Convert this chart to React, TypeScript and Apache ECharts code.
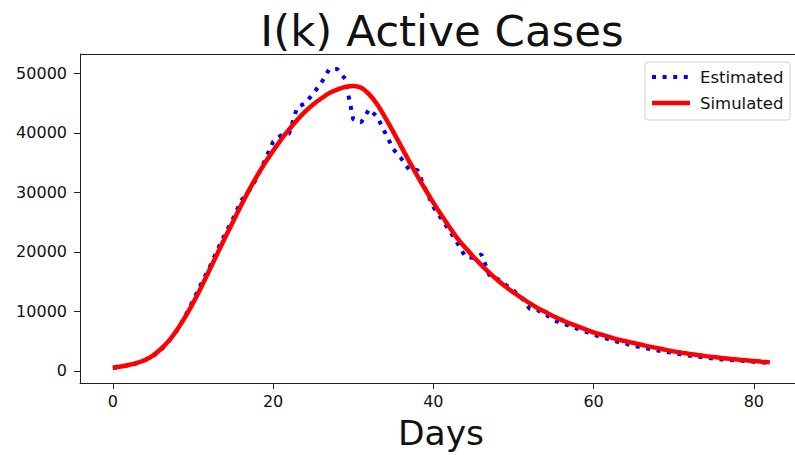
import React, { useEffect, useRef } from "react";
import * as echarts from "echarts";

// Active cases per day, days 0..82
const estimated = [
  500, 700, 950, 1300, 1800, 2500, 3500, 5000, 6800, 9100,
  11800, 14600, 17200, 20200, 23000, 25600, 28600, 30300, 32500, 35500,
  38500, 39600, 39900, 44300, 45000, 46600, 48400, 50700, 50750, 49100,
  42300, 41800, 44000, 42700, 40000, 37300, 35700, 33800, 33800, 30600,
  27600, 25600, 23600, 21500, 19200, 19000, 19600, 16100, 15500, 14500,
  13500, 12400, 10500, 10200, 9500, 8600, 8000, 7600, 7100, 6600,
  6100, 5700, 5300, 4900, 4600, 4200, 3950, 3700, 3450, 3250,
  3000, 2750, 2550, 2400, 2250, 2100, 1950, 1850, 1750, 1650,
  1550, 1450, 1350,
];

const simulated = [
  600, 750, 1000, 1350, 1850, 2600, 3700, 5100, 6900, 9000,
  11400, 14000, 16800, 19600, 22400, 25100, 27800, 30400, 32800, 35000,
  37000, 38900, 40600, 42200, 43600, 44800, 45800, 46700, 47300, 47750,
  47900, 47600, 46500, 44800, 42600, 40200, 37700, 35200, 32800, 30500,
  28300, 26200, 24200, 22300, 20700, 19200, 17800, 16500, 15300, 14200,
  13200, 12300, 11400, 10600, 9900, 9200, 8600, 8000, 7500, 7000,
  6500, 6100, 5700, 5300, 5000, 4700, 4400, 4100, 3850, 3550,
  3300, 3080, 2870, 2680, 2500, 2340, 2190, 2050, 1920, 1800,
  1680, 1560, 1450,
];

const xTicks = [0, 20, 40, 60, 80];
const yTicks = [0, 10000, 20000, 30000, 40000, 50000];

const titleText = "I(k) Active Cases";
const xLabel = "Days";
const seriesNames = ["Estimated", "Simulated"];

const FONT = "DejaVu Sans";
const BLUE = "#0000ff";
const RED = "#ff0000";
const AXIS = "#222";
const DOT_DASH = [4, 6.6];

// plot area (the frame continues past the right edge of the page)
const PLOT_LEFT = 80;
const PLOT_TOP = 54;
const PLOT_W = 715;
const PLOT_H = 329;

export default function App() {
  const ref = useRef<HTMLDivElement>(null);

  useEffect(() => {
    if (!ref.current) return;
    const chart = echarts.init(ref.current, undefined, { renderer: "svg" });

    const toPairs = (arr: number[]) => arr.map((v, i) => [i, v]);

    // legend box drawn in the upper-right corner of the plot
    const lgX = 645;
    const lgY = 62;
    const legendGraphic = {
      type: "group",
      z: 100,
      children: [
        {
          type: "rect",
          shape: { x: lgX, y: lgY, width: 145, height: 58, r: 3 },
          style: { fill: "#ffffff", stroke: "#d0d0d0", lineWidth: 1 },
        },
        {
          type: "line",
          shape: { x1: lgX + 7, y1: lgY + 15, x2: lgX + 45, y2: lgY + 15 },
          style: { stroke: BLUE, lineWidth: 4, lineDash: DOT_DASH, lineCap: "butt" },
        },
        {
          type: "line",
          shape: { x1: lgX + 7, y1: lgY + 41, x2: lgX + 45, y2: lgY + 41 },
          style: { stroke: RED, lineWidth: 4.5 },
        },
        {
          type: "text",
          x: lgX + 55,
          y: lgY + 15,
          style: {
            text: seriesNames[0],
            fontFamily: FONT,
            fontSize: 16.5,
            fill: "#111",
            verticalAlign: "middle",
          },
        },
        {
          type: "text",
          x: lgX + 55,
          y: lgY + 41,
          style: {
            text: seriesNames[1],
            fontFamily: FONT,
            fontSize: 16.5,
            fill: "#111",
            verticalAlign: "middle",
          },
        },
      ],
    };

    chart.setOption({
      animation: false,
      backgroundColor: "#ffffff",
      textStyle: { fontFamily: FONT },
      grid: {
        left: PLOT_LEFT,
        top: PLOT_TOP,
        width: PLOT_W,
        height: PLOT_H,
        show: false,
      },
      xAxis: {
        type: "value",
        min: -4.1,
        max: 85.14,
        axisLine: { show: true, onZero: false, lineStyle: { color: AXIS, width: 1 } },
        axisTick: {
          show: true,
          length: 6,
          customValues: xTicks,
          lineStyle: { color: AXIS },
        },
        axisLabel: {
          customValues: xTicks,
          margin: 10,
          fontSize: 16,
          color: "#111",
          fontFamily: FONT,
          formatter: (v: number) => String(v),
        },
        splitLine: { show: false },
      },
      yAxis: {
        type: "value",
        min: -2017,
        max: 53277,
        axisLine: { show: true, onZero: false, lineStyle: { color: AXIS, width: 1 } },
        axisTick: {
          show: true,
          length: 6,
          customValues: yTicks,
          lineStyle: { color: AXIS },
        },
        axisLabel: {
          customValues: yTicks,
          margin: 13,
          fontSize: 16,
          color: "#111",
          fontFamily: FONT,
          formatter: (v: number) => String(v),
        },
        splitLine: { show: false },
      },
      graphic: [
        {
          type: "line",
          shape: { x1: PLOT_LEFT, y1: PLOT_TOP + 0.5, x2: PLOT_LEFT + PLOT_W, y2: PLOT_TOP + 0.5 },
          style: { stroke: AXIS, lineWidth: 1 },
        },
        {
          type: "text",
          x: 442,
          y: 31,
          style: {
            text: titleText,
            fontFamily: FONT,
            fontSize: 43.5,
            fill: "#111",
            align: "center",
            verticalAlign: "middle",
          },
        },
        {
          type: "text",
          x: 441,
          y: 433,
          style: {
            text: xLabel,
            fontFamily: FONT,
            fontSize: 34.5,
            fill: "#111",
            align: "center",
            verticalAlign: "middle",
          },
        },
        legendGraphic,
      ],
      series: [
        {
          name: seriesNames[0],
          type: "line",
          data: toPairs(estimated),
          showSymbol: false,
          symbol: "none",
          color: BLUE,
          lineStyle: { color: BLUE, width: 4, type: DOT_DASH, cap: "butt" },
          z: 2,
        },
        {
          name: seriesNames[1],
          type: "line",
          data: toPairs(simulated),
          showSymbol: false,
          symbol: "none",
          smooth: 0.3,
          color: RED,
          lineStyle: { color: RED, width: 4.5 },
          z: 3,
        },
      ],
    });

    return () => chart.dispose();
  }, []);

  return (
    <div
      ref={ref}
      style={{ position: "fixed", left: 0, top: 0, width: 795, height: 455 }}
    />
  );
}
